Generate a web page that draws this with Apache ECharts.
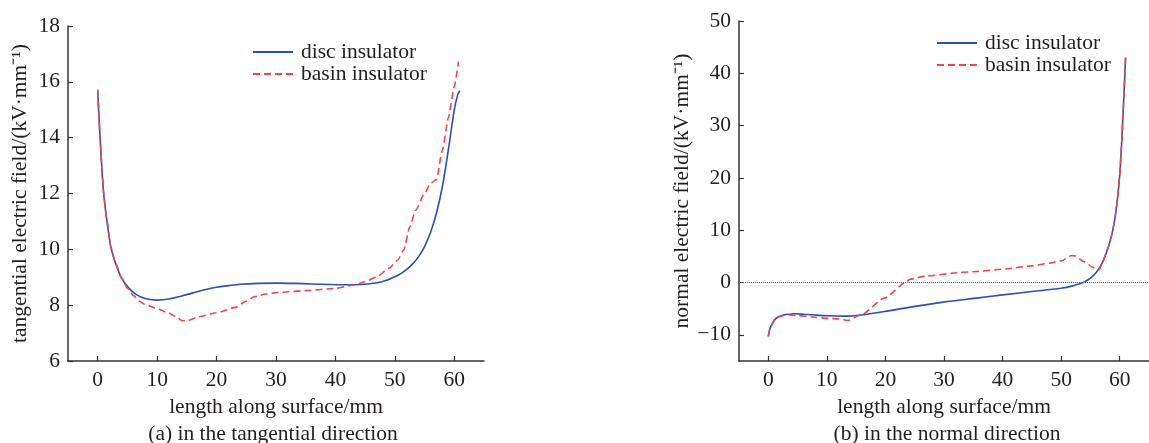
<!DOCTYPE html>
<html><head><meta charset="utf-8">
<script src="https://cdn.jsdelivr.net/npm/echarts@6/dist/echarts.min.js"></script>
<style>html,body{margin:0;padding:0;background:#fff}#c{width:1149px;height:443px}</style>
</head><body><div id="c"></div>
<script>
const xTicks = [0, 10, 20, 30, 40, 50, 60];
const tanYTicks = [6, 8, 10, 12, 14, 16, 18];
const norYTicks = [-10, 0, 10, 20, 30, 40, 50];
const seriesNames = ['disc insulator', 'basin insulator'];
const captions = ['(a) in the tangential direction', '(b) in the normal direction'];

const tanDisc = [[0,15.68],[0.15,15.0],[0.4,14.0],[0.7,12.9],[1.0,12.0],[1.5,11.1],[2.2,10.1],[3.0,9.5],[4.0,8.98],[5.2,8.62],[6.5,8.38],[8,8.24],[10,8.18],[12,8.22],[14,8.32],[16,8.44],[18,8.55],[20,8.64],[22,8.7],[24,8.75],[27,8.78],[30,8.79],[33,8.78],[36,8.76],[39,8.74],[42,8.73],[45,8.75],[47,8.8],[48.5,8.88],[50,9.02],[51,9.13],[52,9.28],[53,9.48],[54,9.74],[55,10.1],[56,10.6],[57,11.3],[58,12.25],[59,13.56],[60,15.0],[60.6,15.55],[60.95,15.68]];
const tanBasin = [[0,15.72],[0.15,15.0],[0.4,14.0],[0.7,12.9],[1.0,12.0],[1.5,11.1],[2.2,10.1],[3.0,9.5],[4.0,8.98],[5.0,8.6],[6.0,8.35],[7.0,8.14],[8.0,8.02],[10,7.88],[12,7.71],[13.3,7.58],[14.2,7.44],[15,7.44],[17.1,7.59],[20,7.73],[23.2,7.92],[24.9,8.13],[26.3,8.3],[28.3,8.4],[30,8.45],[35,8.52],[40,8.6],[43,8.72],[45,8.84],[47,9.02],[49,9.32],[50.5,9.62],[51.5,9.98],[52.5,10.8],[53.5,11.4],[55,12.0],[56,12.36],[57,12.5],[58,13.56],[59,14.7],[60,15.83],[60.7,16.72]];
const norDisc = [[0,-10.3],[0.3,-8.8],[0.72,-7.76],[1.2,-7.0],[1.85,-6.5],[2.6,-6.2],[3.5,-6.05],[4.65,-5.98],[6,-6.05],[7.45,-6.17],[10.25,-6.36],[13.06,-6.43],[15.85,-6.2],[19.8,-5.55],[24.25,-4.7],[29.9,-3.75],[35.5,-2.98],[40,-2.36],[45,-1.72],[50,-1.08],[52,-0.64],[53,-0.3],[54,0.13],[55,0.83],[56,1.9],[57,3.7],[58,6.6],[58.5,8.5],[59,11],[59.5,14.8],[60,20.5],[60.3,26],[60.6,33],[60.85,39],[61,43]];
const norBasin = [[0,-10.3],[0.3,-8.8],[0.72,-7.8],[1.2,-7.0],[1.85,-6.55],[2.6,-6.3],[3.5,-6.2],[5,-6.3],[7.45,-6.6],[10.25,-6.85],[11.9,-6.95],[13.6,-7.25],[15.85,-6.17],[19.8,-2.98],[23.7,0.2],[24.15,0.64],[27.1,1.28],[32.7,1.9],[35.5,2.1],[40,2.55],[45,3.18],[48,3.7],[50,4.14],[51.8,5.16],[52.3,5.1],[54,3.95],[55.5,2.85],[56.5,2.45],[57,3.7],[58,6.6],[58.5,8.5],[59,11],[59.5,14.8],[60,20.5],[60.3,26],[60.6,33],[60.85,39],[61,43]];

const FONT = 'Liberation Serif';
const FS = 21.5;
const TXT = '#231f20';
const BLUE = '#2b4fb2';
const RED = '#f0454d';
const fmt = v => String(v).replace('-', '\u2212');

function xAxis(gi) {
  return {
    type: 'value', gridIndex: gi, min: -5, max: 65,
    name: 'length along surface/mm', nameLocation: 'middle', nameGap: 31,
    nameTextStyle: { fontFamily: FONT, fontSize: FS, color: TXT },
    axisLine: { onZero: false, lineStyle: { color: '#333', width: 1.5 } },
    axisTick: { inside: true, length: 5, customValues: xTicks, lineStyle: { color: '#333', width: 1.2 } },
    axisLabel: { customValues: xTicks, fontFamily: FONT, fontSize: FS, color: TXT, margin: 8, formatter: fmt },
    splitLine: { show: false }
  };
}
function yAxis(gi, min, max, ticks, name, gap) {
  return {
    type: 'value', gridIndex: gi, min: min, max: max,
    name: name, nameLocation: 'middle', nameGap: gap, nameRotate: 90,
    nameTextStyle: { fontFamily: FONT, fontSize: FS, color: TXT },
    axisLine: { show: true, onZero: false, lineStyle: { color: '#333', width: 1.5 } },
    axisTick: { show: true, inside: true, length: 5, customValues: ticks, lineStyle: { color: '#333', width: 1.2 } },
    axisLabel: { customValues: ticks, fontFamily: FONT, fontSize: FS, color: TXT, margin: 8, formatter: fmt },
    splitLine: { show: false }
  };
}
function line(name, data, gi, color, dashed, extra) {
  return Object.assign({
    type: 'line', name: name, data: data, xAxisIndex: gi, yAxisIndex: gi,
    showSymbol: false, symbol: 'none', smooth: 0.35,
    lineStyle: { color: color, width: 1.6, type: dashed ? [7, 4] : 'solid' },
    itemStyle: { color: color }, silent: true, animation: false, z: dashed ? 3 : 2
  }, extra || {});
}
function legend(left, top) {
  return {
    left: left, top: top, orient: 'vertical', padding: 0, itemWidth: 40, itemHeight: 14, itemGap: 0,
    data: seriesNames, selectedMode: false,
    itemStyle: { opacity: 0 },
    textStyle: { fontFamily: FONT, fontSize: FS, color: TXT, padding: [0, 0, 0, 3] }
  };
}

const chart = echarts.init(document.getElementById('c'), null, { renderer: 'canvas' });
chart.setOption({
  backgroundColor: '#fff',
  animation: false,
  grid: [
    { left: 68, right: 665, top: 26, bottom: 82 },
    { left: 739, right: -7, top: 21, bottom: 82 }
  ],
  xAxis: [xAxis(0), xAxis(1)],
  yAxis: [
    yAxis(0, 6, 18, tanYTicks, 'tangential electric field/(kV\u00b7mm\u207b\u00b9)', 37),
    yAxis(1, -15, 50, norYTicks, 'normal electric field/(kV\u00b7mm\u207b\u00b9)', 41)
  ],
  legend: [legend(252, 41), legend(936, 32)],
  series: [
    line(seriesNames[0], tanDisc, 0, BLUE, false),
    line(seriesNames[1], tanBasin, 0, RED, true, { smooth: 0.2, smoothMonotone: 'x' }),
    line(seriesNames[0], norDisc, 1, BLUE, false, {
      markLine: { silent: true, symbol: 'none', label: { show: false },
        lineStyle: { color: '#666', type: [1, 1], width: 1 }, data: [{ yAxis: 0 }] }
    }),
    line(seriesNames[1], norBasin, 1, RED, true, { smooth: 0.2, smoothMonotone: 'x' })
  ],
  graphic: [
    { type: 'text', x: 273, y: 434, style: { text: captions[0], font: FS + 'px "Liberation Serif"', fill: TXT, align: 'center', verticalAlign: 'middle' } },
    { type: 'text', x: 947, y: 434, style: { text: captions[1], font: FS + 'px "Liberation Serif"', fill: TXT, align: 'center', verticalAlign: 'middle' } }
  ]
});
</script></body></html>
